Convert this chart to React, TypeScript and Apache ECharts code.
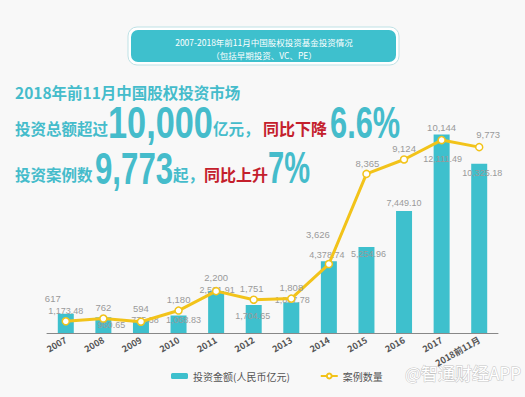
import React, { useEffect, useRef } from "react";
import * as echarts from "echarts";

const categories = ["2007", "2008", "2009", "2010", "2011", "2012", "2013", "2014", "2015", "2016", "2017", "2018前11月"];
const investAmount = [1173.48, 960.65, 775.38, 1068.83, 2561.91, 1704.65, 1867.78, 4378.74, 5254.96, 7449.1, 12111.49, 10325.18];
const caseCount = [617, 762, 594, 1180, 2200, 1751, 1808, 3626, 8365, 9124, 10144, 9773];
const seriesNames = ["投资金额(人民币亿元)", "案例数量"];

const titleLines = ["2007-2018年前11月中国股权投资基金投资情况", "（包括早期投资、VC、PE）"];

// label nudges (style only)
const barLabelOffsets = [[0, 2], [8, 12], [4, 4], [5, 9], [1, 3], [-1, 15], [1, 2], [-2, -2], [2, 12], [0, -3], [1, 29], [3, 14]];
const lineLabelOffsets = [[-13, -12], [0, 0], [0, -2], [0, 0], [0, -2], [-2, 0], [0, 0], [-11, -18], [1, 1], [0, 0], [0, -1], [9, -1]];

const TEAL = "#3ec0cd";
const TEXT_TEAL = "#45bccb";
const RED = "#c4202c";
const GOLD = "#f2c31a";
const CJK = '"Noto Sans CJK SC", "Noto Sans", sans-serif';
const NUM = '"Liberation Sans", Arial, sans-serif';

const fmt = (v: number, d: number) =>
  v.toLocaleString("en-US", { minimumFractionDigits: d, maximumFractionDigits: d });

function txt(x: number, y: number, text: string, size: number, fill: string, family: string, scaleX = 1, weight = "bold") {
  return {
    type: "text",
    x,
    y,
    scaleX,
    style: {
      x: 0,
      y: 0,
      text,
      fill,
      font: `${weight} ${size}px ${family}`,
      textAlign: "left",
      textVerticalAlign: "middle",
    },
  };
}

export default function App() {
  const ref = useRef<HTMLDivElement>(null);
  useEffect(() => {
    document.body.style.margin = "0";
    const chart = echarts.init(ref.current!, undefined, { renderer: "svg" });
    const option: any = {
      animation: false,
      backgroundColor: "#f8f8f8",
      grid: { left: 47, right: 27, top: 120, bottom: 64 },
      legend: {
        left: 166,
        top: 366,
        itemWidth: 17,
        itemHeight: 6,
        itemGap: 30,
        textStyle: { color: "#555", fontSize: 10, fontFamily: CJK },
        data: seriesNames,
      },
      xAxis: {
        type: "category",
        data: categories,
        axisLine: { lineStyle: { color: "#888", width: 1 } },
        axisTick: { show: false },
        axisLabel: {
          interval: 0,
          rotate: 30,
          margin: 6,
          fontSize: 9,
          fontWeight: "bold",
          color: "#555",
          fontFamily: CJK,
        },
      },
      yAxis: [
        { type: "value", min: 0, max: 13000, show: false, splitLine: { show: false } },
        { type: "value", min: 0, max: 11200, show: false, splitLine: { show: false } },
      ],
      series: [
        {
          name: seriesNames[0],
          type: "bar",
          yAxisIndex: 0,
          barWidth: 16,
          itemStyle: { color: TEAL },
          data: investAmount.map((v, i) => ({
            value: v,
            label: {
              show: true,
              position: "top",
              distance: 0,
              offset: barLabelOffsets[i],
              formatter: fmt(v, 2),
              color: "#9a9a9a",
              fontSize: 9,
              fontFamily: NUM,
            },
          })),
        },
        {
          name: seriesNames[1],
          type: "line",
          yAxisIndex: 1,
          z: 5,
          symbol: "circle",
          symbolSize: 7,
          lineStyle: { color: GOLD, width: 3 },
          itemStyle: { color: "#fff", borderColor: GOLD, borderWidth: 1.5 },
          data: caseCount.map((v, i) => ({
            value: v,
            label: {
              show: true,
              position: "top",
              distance: 2,
              offset: lineLabelOffsets[i],
              formatter: fmt(v, 0),
              color: "#9a9a9a",
              fontSize: 9.5,
              fontFamily: NUM,
            },
          })),
        },
      ],
      graphic: [
        {
          type: "rect",
          shape: { x: 128, y: 27, width: 271, height: 38, r: 9 },
          style: { fill: "#fff", stroke: "#bfe2e6", lineWidth: 1 },
        },
        {
          type: "rect",
          shape: { x: 131, y: 30, width: 265, height: 32, r: 7 },
          style: { fill: TEAL },
        },
        {
          type: "text",
          style: { x: 264, y: 42, text: titleLines[0], fill: "#fff", font: `8.5px ${CJK}`, textAlign: "center", textVerticalAlign: "middle" },
        },
        {
          type: "text",
          style: { x: 264, y: 54.5, text: titleLines[1], fill: "#fff", font: `8.5px ${CJK}`, textAlign: "center", textVerticalAlign: "middle" },
        },
        txt(15, 91.5, "2018年前11月中国股权投资市场", 15.5, TEXT_TEAL, CJK),
        txt(15, 127.5, "投资总额超过", 15.5, TEXT_TEAL, CJK),
        txt(108, 122.5, "10,000", 44, TEXT_TEAL, NUM, 0.78),
        txt(213, 127.5, "亿元，", 15.5, TEXT_TEAL, CJK),
        txt(263, 127.5, "同比下降", 16, RED, CJK),
        txt(330, 122.5, "6.6%", 44, TEXT_TEAL, NUM, 0.7),
        txt(15, 173.5, "投资案例数", 15.5, TEXT_TEAL, CJK),
        txt(95, 168, "9,773", 44, TEXT_TEAL, NUM, 0.71),
        txt(173, 173.5, "起，", 15.5, TEXT_TEAL, CJK),
        txt(204, 173.5, "同比上升", 16, RED, CJK),
        txt(268, 168, "7%", 44, TEXT_TEAL, NUM, 0.66),
        {
          type: "text",
          style: {
            x: 405,
            y: 372,
            text: "@智通财经APP",
            fill: "#fff",
            stroke: "#c4c4c4",
            lineWidth: 1,
            font: `17px ${CJK}`,
            textAlign: "left",
            textVerticalAlign: "middle",
          },
        },
      ],
    };
    chart.setOption(option);
    return () => chart.dispose();
  }, []);
  return <div ref={ref} style={{ position: "fixed", left: 0, top: 0, width: 525, height: 397 }} />;
}
